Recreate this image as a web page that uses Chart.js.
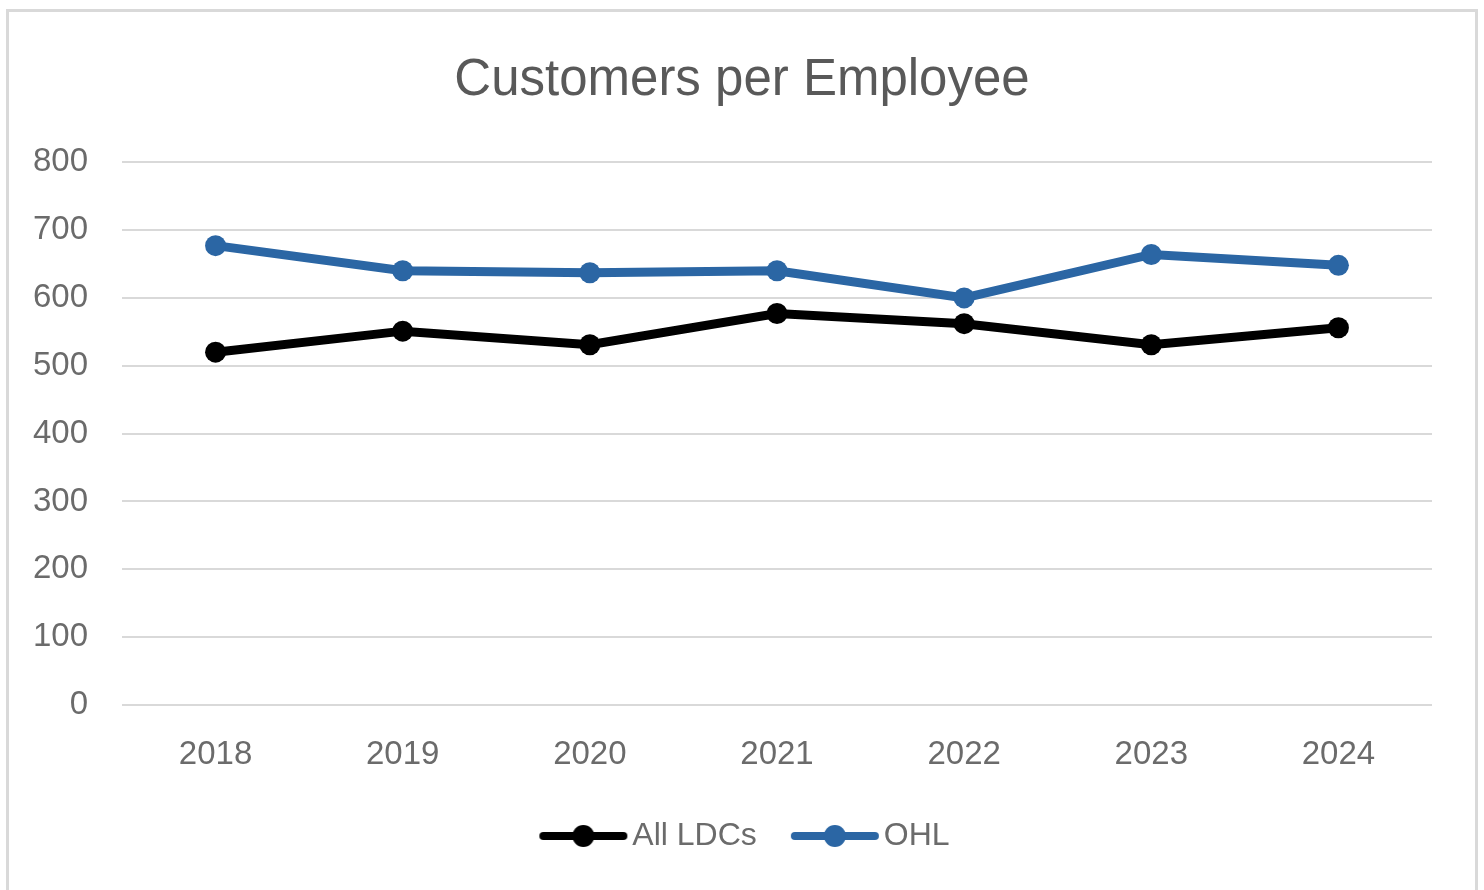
<!DOCTYPE html>
<html>
<head>
<meta charset="utf-8">
<script src="https://cdn.jsdelivr.net/npm/chart.js@4"></script>
<style>
  html, body { margin: 0; padding: 0; background: #ffffff; }
  #frame {
    position: absolute; left: 6px; top: 9px; width: 1472px; height: 900px;
    border: 3px solid #d9d9d9; box-sizing: border-box;
  }
  #chart { position: absolute; left: 0; top: 0; }
</style>
</head>
<body>
<div id="frame"></div>
<canvas id="chart" width="1484" height="890"></canvas>
<script>
// Years on the category axis
const years = ['2018', '2019', '2020', '2021', '2022', '2023', '2024'];
// Customers per employee, industry-wide average
const allLdcs = [520, 551, 531, 577, 562, 531, 556];
// Customers per employee, OHL
const ohl = [677, 640, 637, 640, 600, 664, 648];
// Value-axis range and step
const yMin = 0;
const yMax = 800;
const yStep = 100;

const FONT = '"Liberation Sans", Arial, sans-serif';
const TEXT = '#6b6b6b';
const BLUE = '#2b66a4';

// Legend marker: a thick line segment with a dot in the middle
function legendMarker(color) {
  const c = document.createElement('canvas');
  c.width = 90; c.height = 26;
  const g = c.getContext('2d');
  g.strokeStyle = color;
  g.lineWidth = 8;
  g.lineCap = 'round';
  g.beginPath(); g.moveTo(5, 13); g.lineTo(85, 13); g.stroke();
  g.fillStyle = color;
  g.beginPath(); g.arc(45, 13, 11, 0, Math.PI * 2); g.fill();
  return c;
}

const markers = [legendMarker('#000000'), legendMarker(BLUE)];

// Centre the title and legend on the page rather than on the space left of the plot's right margin
const centerBlocks = {
  id: 'centerBlocks',
  afterLayout(chart) {
    if (chart.titleBlock) { chart.titleBlock.left = 52; chart.titleBlock.right = 1432; }
    if (chart.legend) { chart.legend.left = 60; chart.legend.right = 1440; }
  }
};

new Chart(document.getElementById('chart'), {
  type: 'line',
  data: {
    labels: years,
    datasets: [
      {
        label: 'All LDCs', data: allLdcs,
        borderColor: '#000000', backgroundColor: '#000000',
        borderWidth: 9, pointRadius: 10.5, pointHoverRadius: 10.5,
        pointBorderWidth: 0, tension: 0
      },
      {
        label: 'OHL', data: ohl,
        borderColor: BLUE, backgroundColor: BLUE,
        borderWidth: 9, pointRadius: 10.5, pointHoverRadius: 10.5,
        pointBorderWidth: 0, tension: 0
      }
    ]
  },
  plugins: [centerBlocks],
  options: {
    responsive: false,
    animation: false,
    layout: { padding: { left: 0, right: 52, top: 10, bottom: 28 } },
    plugins: {
      tooltip: { enabled: false },
      title: {
        display: true,
        text: 'Customers per Employee',
        color: '#595959',
        font: { family: FONT, size: 51, weight: 'normal', lineHeight: 1.2 },
        padding: { top: 40, bottom: 51 }
      },
      legend: {
        display: true,
        position: 'bottom',
        labels: {
          usePointStyle: true,
          pointStyleWidth: 66,
          padding: 45,
          color: TEXT,
          font: { family: FONT, size: 32 },
          generateLabels(chart) {
            return chart.data.datasets.map((ds, i) => ({
              text: ds.label,
              pointStyle: markers[i],
              fillStyle: ds.borderColor,
              strokeStyle: ds.borderColor,
              fontColor: TEXT,
              lineWidth: 0,
              hidden: false,
              datasetIndex: i
            }));
          }
        }
      }
    },
    scales: {
      x: {
        offset: true,
        grid: { display: false },
        border: { display: false },
        ticks: { color: TEXT, font: { family: FONT, size: 33 }, padding: 22 },
        afterFit(scale) { scale.height = 70; }
      },
      y: {
        min: yMin, max: yMax,
        grid: { color: '#d9d9d9', lineWidth: 2, drawTicks: false },
        border: { display: false },
        ticks: { stepSize: yStep, color: TEXT, font: { family: FONT, size: 33 }, padding: 34 },
        afterFit(scale) { scale.width = 122; }
      }
    }
  }
});
</script>
</body>
</html>
